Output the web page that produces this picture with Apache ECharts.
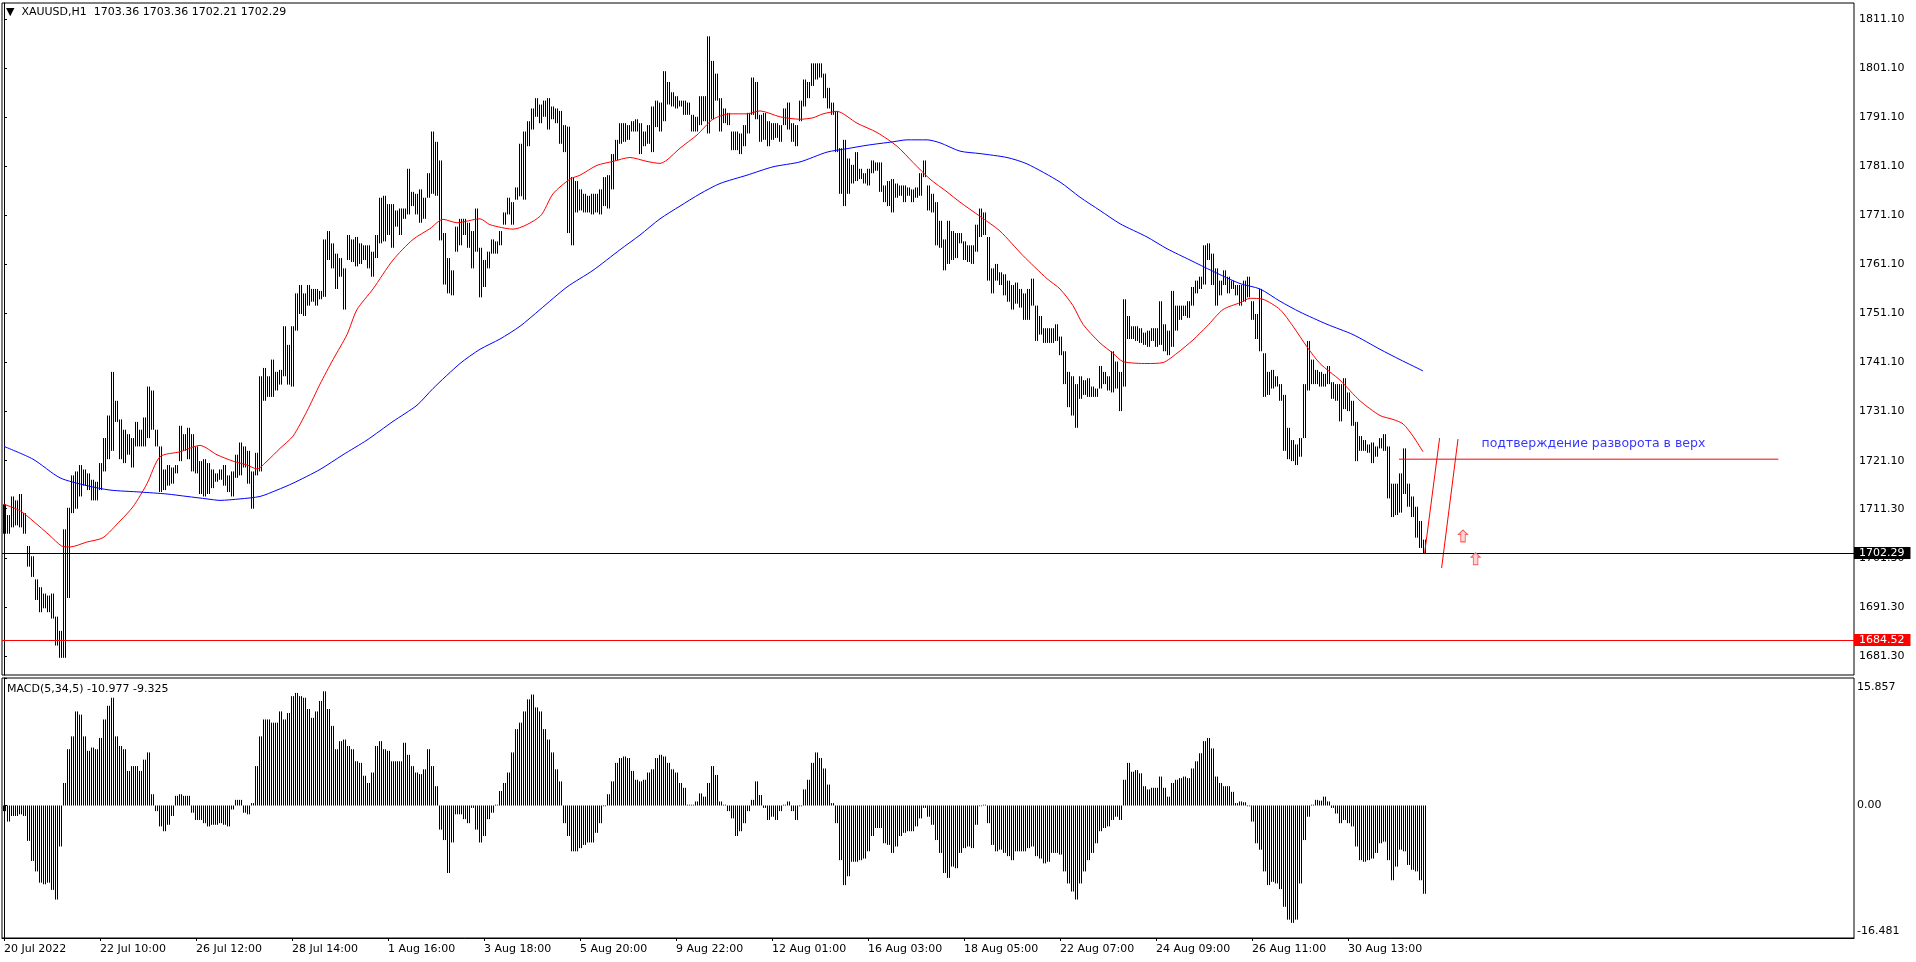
<!DOCTYPE html>
<html>
<head>
<meta charset="utf-8">
<script src="https://cdn.jsdelivr.net/npm/echarts@6/dist/echarts.min.js"></script>
<style>
html,body{margin:0;padding:0;background:#fff;}
#chart{width:1916px;height:962px;}
</style>
</head>
<body>
<div id="chart"></div>
<script>
// ---- data (2-hour bars) ----
const headerText = '▼  XAUUSD,H1  1703.36 1703.36 1702.21 1702.29';
const macdText = 'MACD(5,34,5) -10.977 -9.325';
const tickLabels = ['20 Jul 2022','22 Jul 10:00','26 Jul 12:00','28 Jul 14:00','1 Aug 16:00','3 Aug 18:00','5 Aug 20:00','9 Aug 22:00','12 Aug 01:00','16 Aug 03:00','18 Aug 05:00','22 Aug 07:00','24 Aug 09:00','26 Aug 11:00','30 Aug 13:00'];
const barsPerLabel = 24;
const totalSlots = 463;
const priceTicks = [1811.1,1801.1,1791.1,1781.1,1771.1,1761.1,1751.1,1741.1,1731.1,1721.1,1711.3,1701.3,1691.3,1681.3];
const priceMin = 1677.4, priceMax = 1814.4;
const macdMin = -16.481, macdMax = 15.857;
const macdTicks = [15.857, 0, -16.481];
const lastPrice = 1702.29;
const supportLevel = 1684.52;

const high = [
1712.2,1710.0,1713.8,1713.0,1714.3,1710.4,1703.7,1701.6,1696.9,1695.3,
1694.0,1693.6,1694.0,1689.3,1686.4,1707.1,1711.5,1718.1,1718.9,1720.2,
1719.3,1718.5,1717.2,1716.8,1720.6,1725.7,1730.3,1739.2,1733.3,1729.5,
1727.4,1726.5,1725.7,1729.0,1727.4,1729.9,1736.2,1735.4,1727.4,1724.0,
1719.3,1720.2,1719.7,1720.2,1728.2,1726.5,1727.8,1726.5,1724.0,1721.0,
1721.4,1720.6,1719.3,1718.5,1719.3,1720.2,1718.1,1718.9,1722.3,1724.8,
1724.0,1723.1,1718.9,1722.7,1738.3,1740.0,1738.3,1741.7,1739.2,1739.6,
1748.5,1744.7,1748.5,1755.2,1756.9,1755.2,1756.9,1756.1,1756.1,1755.7,
1766.2,1767.9,1765.4,1763.3,1762.4,1760.3,1767.1,1766.2,1766.7,1765.4,
1765.0,1765.0,1763.7,1767.1,1774.7,1775.1,1773.4,1773.4,1772.1,1772.5,
1772.5,1780.6,1775.9,1775.5,1776.4,1774.7,1779.7,1788.2,1786.1,1782.3,
1767.5,1762.4,1759.9,1768.8,1770.4,1770.4,1769.6,1767.9,1772.5,1764.5,
1762.0,1763.7,1766.2,1765.8,1767.9,1771.7,1774.7,1773.8,1776.8,1785.7,
1788.2,1790.3,1792.9,1795.0,1793.7,1794.5,1795.0,1793.3,1792.9,1792.4,
1789.5,1789.2,1778.9,1778.1,1776.4,1775.5,1775.1,1775.5,1775.5,1776.4,
1778.9,1779.3,1783.6,1786.5,1789.9,1789.9,1789.5,1790.3,1790.7,1789.9,
1788.2,1789.5,1793.3,1794.5,1794.1,1800.5,1798.3,1796.2,1795.4,1794.5,
1794.5,1794.1,1791.6,1791.2,1795.4,1795.4,1807.6,1802.6,1800.0,1795.0,
1792.9,1792.0,1788.2,1788.2,1787.8,1789.5,1792.0,1799.2,1798.3,1791.6,
1792.0,1790.3,1789.9,1789.9,1789.5,1792.9,1794.1,1789.9,1789.5,1794.5,
1798.8,1798.3,1802.1,1802.1,1802.1,1800.0,1797.1,1794.1,1792.4,1784.8,
1786.5,1782.7,1781.4,1784.0,1780.6,1779.7,1780.6,1782.3,1781.9,1781.9,
1777.2,1778.1,1778.5,1777.6,1777.2,1777.2,1776.8,1776.4,1776.8,1779.7,
1782.3,1777.2,1775.5,1773.8,1770.0,1766.2,1770.0,1767.9,1767.5,1767.5,
1765.8,1765.0,1765.0,1769.2,1772.5,1771.7,1766.7,1760.3,1761.2,1759.5,
1759.1,1757.8,1756.9,1757.4,1756.1,1755.2,1756.1,1758.2,1752.7,1750.6,
1748.1,1748.1,1748.1,1748.9,1746.4,1743.4,1739.2,1738.3,1736.7,1738.3,
1737.5,1737.9,1736.2,1735.8,1740.4,1739.2,1738.3,1743.4,1741.3,1739.2,
1754.0,1750.6,1748.5,1748.5,1748.1,1747.2,1747.6,1748.1,1748.1,1753.6,
1748.9,1747.6,1755.7,1752.7,1752.7,1752.7,1753.6,1756.5,1757.8,1758.6,
1765.0,1765.4,1763.3,1760.3,1757.8,1759.9,1758.6,1757.8,1756.9,1756.9,
1757.8,1758.6,1753.6,1751.0,1756.1,1743.0,1739.2,1739.6,1738.3,1736.7,
1734.5,1727.8,1725.3,1724.4,1725.7,1736.7,1745.5,1741.7,1739.6,1739.2,
1738.8,1740.4,1737.1,1736.7,1736.7,1737.9,1735.0,1733.3,1729.0,1726.1,
1725.3,1724.4,1724.8,1724.0,1725.7,1726.5,1724.0,1716.4,1716.4,1718.5,
1723.6,1716.4,1713.8,1711.7,1708.8,1705.0
];
const low = [
1706.2,1706.2,1707.5,1707.9,1707.5,1706.2,1699.5,1697.4,1692.7,1690.2,
1691.0,1690.2,1688.9,1683.4,1680.9,1680.9,1693.1,1710.4,1711.3,1713.8,
1716.0,1715.1,1713.0,1713.0,1715.1,1718.9,1721.4,1723.1,1729.0,1721.4,
1720.6,1722.3,1719.7,1724.0,1724.0,1724.0,1725.7,1727.4,1724.0,1714.7,
1715.1,1716.0,1716.4,1718.5,1721.0,1723.1,1721.4,1718.9,1718.5,1714.3,
1713.8,1714.3,1715.5,1716.8,1717.2,1716.0,1714.7,1713.8,1717.6,1718.1,
1719.7,1716.4,1711.3,1718.1,1718.9,1733.3,1734.1,1734.1,1735.4,1736.6,
1738.3,1736.6,1736.2,1747.6,1751.0,1750.6,1752.7,1753.5,1752.7,1754.0,
1754.5,1762.0,1760.3,1756.1,1758.6,1751.9,1762.0,1761.6,1760.7,1761.2,
1762.0,1760.3,1758.6,1762.4,1765.4,1765.8,1767.1,1764.5,1768.8,1767.1,
1770.4,1771.3,1773.0,1771.3,1769.6,1770.4,1774.7,1775.5,1775.1,1766.0,
1757.0,1755.2,1754.8,1763.7,1765.0,1767.1,1764.5,1760.3,1763.7,1754.4,
1756.5,1760.3,1763.3,1763.3,1765.0,1769.2,1771.3,1769.2,1774.3,1775.0,
1774.3,1785.2,1788.6,1791.2,1789.9,1791.2,1788.6,1790.7,1789.9,1785.7,
1784.0,1767.5,1765.0,1771.7,1772.1,1771.7,1771.7,1771.3,1771.7,1771.3,
1773.0,1772.5,1776.4,1782.3,1785.7,1786.1,1786.5,1788.2,1788.2,1783.6,
1785.2,1785.7,1784.0,1789.1,1788.2,1790.3,1793.7,1793.3,1792.9,1793.3,
1791.6,1791.6,1788.2,1788.2,1789.5,1790.3,1787.8,1790.7,1794.5,1788.2,
1789.9,1789.5,1784.4,1784.4,1783.6,1785.2,1787.8,1791.6,1790.7,1786.1,
1786.5,1785.2,1786.5,1786.9,1786.1,1789.5,1788.6,1786.1,1785.2,1790.3,
1793.3,1795.0,1797.5,1798.8,1799.2,1795.0,1792.9,1791.6,1784.0,1775.5,
1773.0,1775.5,1777.6,1778.1,1778.5,1777.6,1777.2,1779.7,1780.2,1775.9,
1773.8,1773.0,1771.7,1774.7,1775.1,1773.8,1775.1,1773.8,1774.7,1775.1,
1778.9,1772.1,1771.7,1765.0,1764.5,1759.9,1761.2,1762.0,1762.4,1765.4,
1762.0,1761.6,1761.2,1763.7,1766.7,1767.1,1757.8,1755.2,1757.8,1756.9,
1754.8,1753.5,1751.9,1753.1,1752.3,1749.8,1749.8,1752.7,1745.5,1746.8,
1745.1,1745.1,1745.1,1745.5,1742.6,1736.7,1732.0,1730.3,1727.8,1733.7,
1734.5,1734.1,1734.1,1734.1,1735.8,1736.7,1735.4,1735.0,1735.8,1731.2,
1736.2,1745.9,1745.9,1745.5,1745.1,1744.7,1744.3,1745.5,1744.3,1744.7,
1743.4,1742.6,1744.3,1747.6,1749.8,1750.6,1750.2,1752.7,1755.2,1756.1,
1757.0,1762.0,1756.9,1752.7,1754.8,1756.9,1755.2,1756.1,1754.8,1752.7,
1753.5,1754.4,1749.8,1745.9,1743.4,1734.1,1734.5,1735.8,1736.2,1733.3,
1723.1,1721.4,1721.0,1720.2,1721.9,1725.7,1735.4,1736.7,1736.7,1736.2,
1736.2,1736.7,1733.7,1733.3,1729.1,1731.6,1731.2,1728.2,1721.0,1723.1,
1723.1,1722.7,1720.6,1721.9,1723.6,1723.1,1713.4,1709.6,1710.0,1710.5,
1714.3,1711.7,1709.6,1705.4,1703.3,1702.2
];
const macd = [
-0.7,-2.0,-1.3,-1.3,-1.1,-1.3,-4.4,-6.9,-8.2,-9.6,
-9.8,-9.6,-10.5,-11.7,-5.1,2.8,7.0,8.6,11.7,11.3,
8.6,6.8,7.2,7.0,8.4,10.7,12.4,13.4,8.6,7.4,
7.0,4.3,4.9,4.9,4.3,5.7,6.6,1.4,-0.7,-2.6,
-3.2,-2.4,-1.3,1.2,1.4,1.2,1.2,-0.9,-1.8,-1.8,
-2.2,-2.6,-2.4,-2.4,-2.2,-2.4,-2.6,-0.5,0.7,0.7,
-0.9,-1.1,0.3,4.9,8.6,10.7,10.7,10.3,10.3,11.7,
10.7,11.5,13.6,14.0,13.6,13.4,12.0,10.9,11.7,13.0,
14.2,12.0,9.9,7.0,8.0,8.2,7.4,7.0,5.5,5.3,
3.7,2.8,4.1,7.4,8.0,7.0,6.8,5.5,5.5,5.5,
7.8,6.3,4.9,4.1,3.9,4.5,7.0,4.9,2.4,-3.0,
-4.3,-8.4,-4.6,-1.1,-1.1,-1.7,-2.2,-0.3,-3.0,-4.6,
-3.8,-1.7,-0.9,0.1,1.8,2.8,4.1,6.6,9.5,10.3,
11.7,13.2,13.8,12.2,11.7,9.5,8.2,6.6,4.5,3.0,
-2.2,-3.8,-5.7,-5.7,-5.3,-4.9,-4.6,-4.6,-3.4,-2.2,
-0.1,1.4,3.0,5.3,5.9,6.1,5.9,4.3,3.2,3.0,
3.2,4.1,4.5,5.9,6.3,6.1,5.3,4.5,4.1,2.8,
2.2,0.1,0.1,0.5,
1.5,1.1,2.8,4.9,3.8,0.5,
0.1,-0.7,-1.6,-3.8,-3.2,-2.2,-0.7,0.7,3.0,1.3,
-0.3,-1.8,-1.4,-1.8,-0.7,0.1,0.5,-0.7,-1.8,-0.1,
2.0,3.2,5.3,6.6,5.9,4.6,2.6,0.3,-2.2,-6.8,
-9.9,-8.8,-7.0,-7.0,-6.8,-6.6,-5.7,-3.8,-2.8,-2.8,
-4.7,-4.9,-5.9,-5.1,-3.8,-3.4,-3.2,-3.2,-2.6,-1.6,
-0.3,-1.4,-2.4,-4.3,-5.9,-8.4,-9.0,-7.6,-7.8,-5.9,
-5.3,-5.1,-5.3,-2.4,-0.1,0.1,-2.2,-4.9,-5.7,-5.5,
-5.9,-6.3,-6.8,-5.7,-5.7,-5.7,-5.3,-5.1,-6.3,-6.6,
-7.2,-7.0,-5.9,-5.9,-6.1,-8.2,-9.7,-10.7,-11.7,-9.7,
-8.2,-6.8,-5.9,-4.7,-3.2,-2.8,-2.6,-1.8,-1.4,-1.8,
3.2,5.3,4.2,4.4,4.0,2.4,2.0,2.2,2.2,3.6,
2.2,1.1,2.8,3.2,3.4,3.6,3.4,4.6,5.5,6.5,
8.0,8.4,7.1,3.6,2.8,2.4,2.4,1.7,0.3,0.5,
0.4,-0.1,-2.0,-4.7,-5.5,-8.2,-9.9,-9.5,-9.7,-10.4,
-12.6,-14.2,-14.6,-14.2,-9.7,-4.3,-1.4,0.1,0.7,0.6,
1.1,0.5,-0.3,-1.0,-2.2,-1.8,-2.2,-2.6,-5.1,-6.8,
-7.0,-6.8,-6.6,-5.9,-4.7,-4.5,-6.8,-9.3,-7.6,-5.5,
-5.7,-7.4,-8.0,-8.2,-9.3,-10.98
];
// moving averages: [bar index, price]
const maRed = [[0,1712.2],[4,1710.9],[7.25,1708.8],[11.5,1705.8],[14.4,1703.7],[16.5,1703.5],[20.7,1704.5],[24.75,1705.4],[29,1708.8],[32.25,1711.7],[35.75,1716.4],[39,1721.9],[44,1722.9],[49,1724.2],[53.25,1722.3],[57.25,1721.0],[60.75,1720.2],[63.25,1719.4],[65.75,1721.0],[69,1723.6],[72.25,1726.1],[75.75,1731.2],[79,1736.7],[82.25,1741.7],[85.75,1746.8],[88.25,1751.9],[92.25,1756.1],[97.25,1762.0],[102.25,1766.2],[106.5,1768.4],[109.75,1770.3],[113.25,1769.6],[119,1770.4],[121.5,1769.2],[127.25,1768.3],[134,1770.9],[137.25,1775.5],[141.5,1778.5],[144,1779.3],[148.25,1781.3],[152.25,1782.1],[156.5,1782.9],[160.75,1782.1],[164,1781.7],[165.75,1782.4],[169,1784.8],[173.25,1787.5],[177.25,1790.7],[181.5,1791.8],[185.75,1791.8],[189,1792.4],[194,1791.2],[199,1790.7],[202.25,1791.0],[204.75,1791.8],[208.25,1792.3],[213.25,1789.9],[218.25,1788.0],[223.25,1785.2],[227.25,1781.9],[231.5,1778.5],[235.75,1775.9],[239,1773.8],[244,1770.9],[249,1767.9],[254.75,1762.9],[260.75,1758.2],[264,1756.1],[267.25,1752.7],[269.75,1748.9],[274,1745.1],[277.25,1743.0],[279.75,1741.3],[285.75,1740.9],[289.75,1741.1],[293.25,1743.0],[297.25,1745.7],[300.75,1748.5],[304.75,1751.9],[309,1753.3],[311.5,1754.2],[314.75,1754.0],[319,1751.9],[322.25,1748.5],[325.75,1744.3],[329,1740.9],[334,1737.5],[339,1733.3],[344,1730.3],[347.25,1729.5],[349.75,1728.6],[352.25,1726.1],[354.75,1722.9]];
const maBlue = [[0,1724.0],[7.25,1721.4],[14,1717.6],[20.75,1716.0],[26.5,1715.1],[34,1714.7],[40.75,1714.3],[45.75,1713.8],[50.75,1713.3],[54,1713.0],[59,1713.3],[64,1713.8],[68.25,1715.1],[72.25,1716.5],[79,1719.3],[84.75,1722.3],[90.75,1725.3],[97.25,1729.1],[103.25,1732.4],[107.25,1735.8],[114,1740.9],[119,1743.8],[124,1745.9],[129,1748.5],[134,1751.9],[140.75,1756.5],[147.25,1759.9],[154,1764.1],[159,1767.1],[164,1770.4],[169,1773.0],[174,1775.5],[179,1777.6],[185.75,1779.3],[192.25,1781.0],[199,1782.0],[205.75,1784.0],[210.75,1784.7],[215.75,1785.4],[222.25,1786.1],[225.75,1786.5],[230.75,1786.5],[234,1785.9],[239,1784.2],[244,1783.7],[250.75,1782.9],[255.75,1781.6],[264,1777.9],[269,1774.8],[274,1772.1],[279,1769.4],[285.75,1766.7],[290.75,1764.3],[296.5,1762.0],[302.25,1759.7],[309,1757.2],[314,1756.1],[319,1753.6],[324,1751.4],[330.75,1748.9],[337.25,1746.8],[344,1743.8],[349,1741.7],[354.75,1739.4]];
// drawn objects (anchored in bar index / price)
const trendLine1 = [[355.15,1702.2],[358.9,1725.7]];
const trendLine2 = [[359.4,1699.2],[363.5,1725.5]];
const levelLine = [[348.75,1721.4],[443.6,1721.4]];
const arrowMarks = [[364.75,1705.75],[367.9,1701.1]];
const noteText = 'подтверждение разворота в верх';
const noteAnchor = [369.25,1724.45];

// ---- chart ----
const FONT = 'DejaVu Sans';
const chart = echarts.init(document.getElementById('chart'), null, {renderer:'canvas'});
const tickIdx = tickLabels.map((_, k) => k * barsPerLabel);
const barData = high.map((h, i) => [i, low[i], h]);
const macdData = macd.map((v, i) => [i, v]);

function twinLines(p1, p2, color) {
  const cx = Math.round(p1[0]);
  return {
    type: 'group',
    children: [
      {type:'line', shape:{x1:cx-0.5, y1:p1[1], x2:cx-0.5, y2:p2[1]}, style:{stroke:color, lineWidth:1}},
      {type:'line', shape:{x1:cx+1.5, y1:p1[1], x2:cx+1.5, y2:p2[1]}, style:{stroke:color, lineWidth:1}}
    ]
  };
}

const redLine = {color:'#ff0000', width:1};
const option = {
  animation: false,
  backgroundColor: '#ffffff',
  textStyle: {fontFamily: FONT},
  title: [
    {text: headerText, left: 6, top: 6, padding: 0,
     textStyle: {fontFamily: FONT, fontSize: 11, fontWeight: 'normal', color: '#000', lineHeight: 13}},
    {text: macdText, left: 7, top: 683, padding: 0,
     textStyle: {fontFamily: FONT, fontSize: 11, fontWeight: 'normal', color: '#000', lineHeight: 13}}
  ],
  grid: [
    {left: 2, top: 3, width: 1852, height: 672, show: true, borderColor: '#000', borderWidth: 1, backgroundColor: 'transparent', containLabel: false, outerBoundsMode: 'none'},
    {left: 2, top: 678, width: 1852, height: 260, show: true, borderColor: '#000', borderWidth: 1, backgroundColor: 'transparent', containLabel: false, outerBoundsMode: 'none'}
  ],
  xAxis: [
    {gridIndex: 0, type: 'value', min: -0.5, max: totalSlots - 0.5, show: false, splitLine: {show: false}},
    {gridIndex: 1, type: 'value', min: -0.5, max: totalSlots - 0.5,
     axisLine: {show: true, onZero: false, lineStyle: {color: '#000', width: 1}},
     splitLine: {show: false},
     axisTick: {show: true, customValues: tickIdx, length: 3, lineStyle: {color: '#000'}},
     axisLabel: {show: true, customValues: tickIdx, align: 'left', margin: 6, color: '#000', fontSize: 11, fontFamily: FONT,
       formatter: v => tickLabels[Math.round(v / barsPerLabel)] || ''}}
  ],
  yAxis: [
    {gridIndex: 0, type: 'value', position: 'right', min: priceMin, max: priceMax,
     axisLine: {show: true, lineStyle: {color: '#000', width: 1}},
     splitLine: {show: false},
     axisTick: {show: true, customValues: priceTicks, length: 3, lineStyle: {color: '#000'}},
     axisLabel: {show: true, customValues: priceTicks, margin: 5, color: '#000', fontSize: 11, fontFamily: FONT,
       formatter: v => v.toFixed(2)}},
    {gridIndex: 1, type: 'value', position: 'right', min: macdMin, max: macdMax,
     axisLine: {show: true, lineStyle: {color: '#000', width: 1}},
     splitLine: {show: false},
     axisTick: {show: true, customValues: macdTicks, length: 3, lineStyle: {color: '#000'}},
     axisLabel: {show: true, customValues: macdTicks, margin: 3, color: '#000', fontSize: 11, fontFamily: FONT,
       formatter: v => {
         if (Math.abs(v) < 1e-9) return '0.00';
         if (v > 0) return '{top|' + v.toFixed(3) + '}';
         return '{bot|' + v.toFixed(3) + '}';
       },
       rich: {
         top: {padding: [19, 0, 0, 0], fontSize: 11, fontFamily: FONT, color: '#000'},
         bot: {padding: [0, 0, 13, 0], fontSize: 11, fontFamily: FONT, color: '#000'}
       }}}
  ],
  series: [
    {
      name: 'price', type: 'custom', xAxisIndex: 0, yAxisIndex: 0, silent: true,
      data: barData, encode: {x: 0, y: [1, 2]}, z: 2,
      renderItem: (params, api) => {
        const i = api.value(0);
        return twinLines(api.coord([i, api.value(1)]), api.coord([i, api.value(2)]), '#000');
      }
    },
    {
      name: 'MA fast', type: 'line', xAxisIndex: 0, yAxisIndex: 0, data: maRed, showSymbol: false, symbol: 'none',
      smooth: 0.25, lineStyle: {color: '#ff0000', width: 1}, silent: true, z: 3,
      markLine: {
        silent: true, symbol: ['none', 'none'], animation: false,
        data: [
          {yAxis: lastPrice, lineStyle: {color: '#000', width: 1, type: 'solid'},
           label: {show: true, position: 'end', distance: 0, formatter: lastPrice.toFixed(2), color: '#fff', backgroundColor: '#000',
             padding: [1, 6, 0, 5], fontSize: 11, fontFamily: FONT, lineHeight: 11}},
          {yAxis: supportLevel, lineStyle: {color: '#ff0000', width: 1, type: 'solid'},
           label: {show: true, position: 'end', distance: 0, formatter: supportLevel.toFixed(2), color: '#fff', backgroundColor: '#ff0000',
             padding: [1, 6, 0, 5], fontSize: 11, fontFamily: FONT, lineHeight: 11}}
        ]
      }
    },
    {
      name: 'MA slow', type: 'line', xAxisIndex: 0, yAxisIndex: 0, data: maBlue, showSymbol: false, symbol: 'none',
      smooth: 0.25, lineStyle: {color: '#0000ff', width: 1}, silent: true, z: 3
    },
    {name: 'tl1', type: 'line', xAxisIndex: 0, yAxisIndex: 0, data: trendLine1, showSymbol: false, symbol: 'none', lineStyle: redLine, silent: true, z: 4},
    {name: 'tl2', type: 'line', xAxisIndex: 0, yAxisIndex: 0, data: trendLine2, showSymbol: false, symbol: 'none', lineStyle: redLine, silent: true, z: 4},
    {name: 'level', type: 'line', xAxisIndex: 0, yAxisIndex: 0, data: levelLine, showSymbol: false, symbol: 'none', lineStyle: redLine, silent: true, z: 4},
    {
      name: 'arrows', type: 'scatter', xAxisIndex: 0, yAxisIndex: 0, data: arrowMarks, silent: true, z: 5,
      symbol: 'path://M4,0 L8,4 L6,4 L6,11 L2,11 L2,4 L0,4 Z', symbolSize: [9, 12],
      itemStyle: {color: '#ffd4d4', borderColor: '#ff5a5a', borderWidth: 1, opacity: 1}
    },
    {
      name: 'note', type: 'scatter', xAxisIndex: 0, yAxisIndex: 0, data: [noteAnchor], silent: true, z: 5,
      symbolSize: 1, itemStyle: {color: 'rgba(0,0,0,0)'},
      label: {show: true, position: 'right', distance: 0, formatter: noteText, color: '#0000ff', fontSize: 12.5, fontFamily: FONT}
    },
    {
      name: 'MACD', type: 'custom', xAxisIndex: 1, yAxisIndex: 1, silent: true,
      data: macdData, encode: {x: 0, y: 1}, z: 2,
      renderItem: (params, api) => {
        const i = api.value(0);
        return twinLines(api.coord([i, 0]), api.coord([i, api.value(1)]), '#000');
      }
    }
  ]
};
chart.setOption(option);
</script>
</body>
</html>
